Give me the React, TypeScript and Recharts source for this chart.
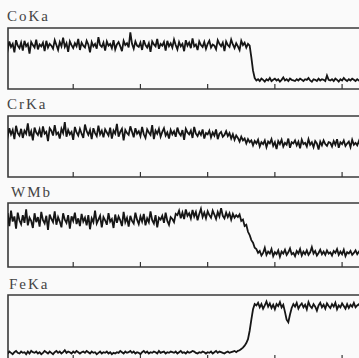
import React from 'react';
import { LineChart, Line, XAxis, YAxis, ReferenceArea } from 'recharts';

const labels = ['CoKa', 'CrKa', 'WMb', 'FeKa'];
const xTicks = [100, 200, 300, 400, 500];

const coKa = [
  72,64,78,69,74,60,80,71,67,76,63,79,70,74,58,77,72,68,81,65,
  73,70,76,62,79,68,74,71,66,80,72,64,77,70,84,69,75,61,78,72,
  67,75,70,82,64,76,71,68,79,73,60,77,70,74,66,85,72,69,76,63,
  78,71,74,67,80,65,73,77,70,62,79,72,75,68,93,74,66,78,71,69,
  76,64,80,72,68,75,61,78,73,70,82,66,74,71,77,63,79,70,75,68,
  81,72,65,77,70,74,62,80,71,76,67,83,70,73,64,78,72,69,77,66,
  74,79,68,73,71,65,80,74,70,76,62,78,72,69,81,73,67,75,70,64,
  79,72,76,68,74,71,
  52,30,18,
  14,16,13,17,15,12,16,14,18,13,15,17,14,16,12,15,19,14,16,13,
  17,15,14,13,16,14,17,15,13,16,15,18,14,12,16,15,13,17,14,16,
  15,13,22,15,14,16,13,17,15,12,16,14,18,15,13,16,14,17,15,13,
  16,14,15,17,13,16,14,15,
];

const crKa = [
  74,66,80,70,77,62,84,72,68,79,64,76,71,88,67,75,60,81,73,69,
  78,65,83,71,74,59,80,76,68,85,70,73,63,79,72,90,66,77,70,74,
  61,82,73,68,79,71,64,86,75,69,77,62,80,72,67,84,70,76,65,78,
  73,68,81,63,76,71,87,66,74,79,60,77,72,69,83,74,65,80,71,75,
  67,82,70,64,78,73,69,85,62,76,71,79,66,74,80,68,73,63,77,70,
  75,66,81,72,68,77,61,79,73,70,76,64,82,71,67,74,69,78,63,72,
  70,76,65,73,68,78,62,71,74,66,69,75,
  67,72,63,70,61,68,64,58,66,60,63,55,62,57,60,52,59,55,61,50,57,
  54,60,49,58,55,62,51,57,46,59,54,61,50,56,53,63,48,57,55,60,
  52,58,47,61,54,56,50,62,53,57,49,59,55,45,58,52,60,54,51,57,
  56,50,59,53,62,48,57,54,60,51,55,58,49,61,53,56,52,59,50,57,
  54,60,52,56,
];

const wMb = [
  76,84,64,88,71,79,60,85,73,67,81,69,90,65,77,72,61,84,70,78,
  63,86,73,68,80,58,82,75,70,87,66,78,71,62,84,74,69,81,60,79,
  72,85,67,76,64,83,71,77,65,81,59,76,70,88,68,74,80,62,78,73,
  66,84,71,75,61,82,69,79,73,64,86,70,77,63,80,72,68,85,74,67,
  79,71,83,65,76,70,87,73,68,81,62,77,74,80,69,85,72,66,78,75,
  70,83,
  81,88,76,85,75,90,80,84,76,89,79,86,73,83,91,78,85,76,87,81,
  77,88,82,75,86,79,92,80,76,85,78,84,74,83,77,81,
  78,82,72,74,64,66,55,50,42,38,30,28,22,
  25,18,22,30,19,24,21,28,17,23,20,26,16,24,21,27,19,23,29,20,
  22,17,25,21,28,18,24,20,26,19,23,31,21,25,18,22,27,20,24,19,
  26,21,23,18,25,22,28,19,24,20,27,17,23,21,25,19,22,26,20,24,
  21,23,19,25,22,20,
];

const feKa = [
  12,10,13,11,9,12,14,11,10,13,11,12,9,13,10,14,12,11,13,10,
  12,9,11,14,12,10,13,11,9,12,14,11,13,10,12,15,11,13,12,10,
  13,11,14,12,10,12,13,11,14,12,10,13,11,12,9,11,13,10,12,11,
  13,10,12,9,11,10,12,11,14,12,10,13,11,12,14,11,13,10,12,11,
  9,12,14,11,13,10,12,11,13,12,10,14,11,12,13,10,12,11,13,12,
  11,13,10,12,14,11,12,10,13,11,12,14,13,11,10,12,11,13,12,10,
  12,11,13,10,12,14,11,13,12,11,10,12,13,11,12,13,14,12,
  14,15,17,19,22,26,32,45,62,78,86,84,
  88,81,86,79,84,90,82,87,80,85,78,86,83,89,81,85,74,62,58,70,
  80,86,82,88,79,84,87,81,85,78,89,83,80,86,82,76,84,88,81,85,
  79,87,83,80,86,82,88,78,84,81,87,83,79,86,80,85,82,88,81,84,
  86,80,85,83,87,81,84,
];

const series = [coKa, crKa, wMb, feKa];
const boxTops = [28, 116, 203, 295];
const boxHeights = [61, 61, 64, 65];
const labelTops = [9, 97, 185, 277];
const labelLefts = [7, 7, 11, 9];

function Panel({ values, top, height }: { values: number[]; top: number; height: number }) {
  const data = values.map((v, i) => ({ x: i * 2.5, y: v }));
  return (
    <div style={{ position: 'absolute', left: 7, top: top - 1 }}>
      <LineChart width={365} height={height + 2} data={data} margin={{ top: 1, right: 1, bottom: 1, left: 1 }}>
        <XAxis
          dataKey="x"
          type="number"
          domain={[3, 543]}
          allowDataOverflow
          ticks={xTicks}
          mirror
          axisLine={false}
          tickSize={5}
          tickLine={{ stroke: '#333', strokeWidth: 1.2 }}
          tickFormatter={() => ''}
        />
        <YAxis hide domain={[0, 100]} allowDataOverflow />
        <ReferenceArea x1={3} x2={543} y1={0} y2={100} fill="none" stroke="#3a3a3a" strokeWidth={1.6} ifOverflow="visible" />
        <Line type="linear" dataKey="y" stroke="#161616" strokeWidth={1.8} dot={false} isAnimationActive={false} />
      </LineChart>
    </div>
  );
}

export default function App() {
  return (
    <div style={{ position: 'absolute', left: 0, top: 0, width: 359, height: 358, overflow: 'hidden', background: '#fafafa' }}>
      {labels.map((l, i) => (
        <div
          key={l}
          style={{
            position: 'absolute',
            left: labelLefts[i],
            top: labelTops[i],
            fontFamily: '"Liberation Serif", serif',
            fontSize: 15,
            lineHeight: 1,
            letterSpacing: 2,
            color: '#444',
          }}
        >
          {l}
        </div>
      ))}
      {series.map((s, i) => (
        <Panel key={i} values={s} top={boxTops[i]} height={boxHeights[i]} />
      ))}
    </div>
  );
}
